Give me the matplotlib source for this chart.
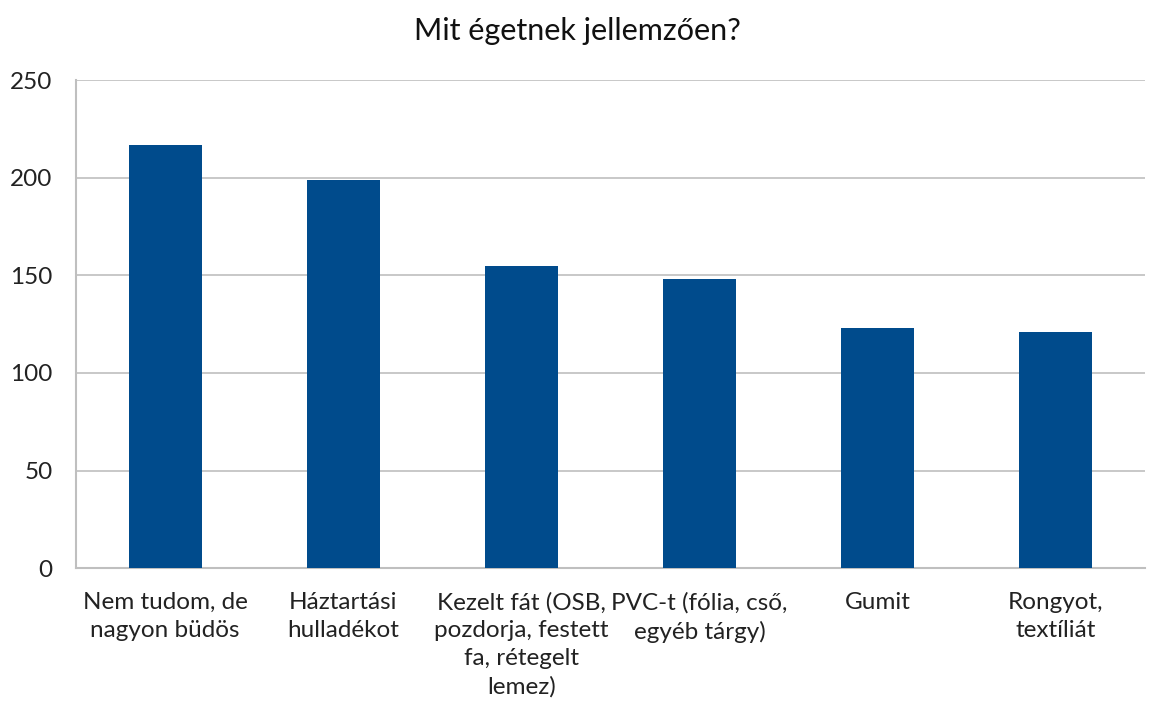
import matplotlib.pyplot as plt
import numpy as np

plt.rcParams['font.family'] = ['Lato', 'DejaVu Sans']

title = "Mit égetnek jellemzően?"
categories = [
    "Nem tudom, de\nnagyon büdös",
    "Háztartási\nhulladékot",
    "Kezelt fát (OSB,\npozdorja, festett\nfa, rétegelt\nlemez)",
    "PVC-t (fólia, cső,\negyéb tárgy)",
    "Gumit",
    "Rongyot,\ntextíliát",
]
values = [217, 199, 155, 148, 123, 121]
yticks = [0, 50, 100, 150, 200, 250]

fig = plt.figure(figsize=(11.54, 7.11), dpi=100)
ax = fig.add_axes([0.066, 0.201, 0.926, 0.686])

x = np.arange(len(categories))
ax.bar(x, values, width=0.41, color='#004B8C', zorder=3)

ax.set_xlim(-0.5, len(categories) - 0.5)
ax.set_ylim(0, 250)
ax.set_yticks(yticks)
ax.set_xticks(x)
ax.set_xticklabels(categories, fontsize=17.5, color='#222222', linespacing=1.4, va='top')
ax.tick_params(axis='y', labelsize=17.5, labelcolor='#222222', length=0, pad=17)
ax.tick_params(axis='x', length=0, pad=17)

ax.grid(axis='y', color='#BFBFBF', linewidth=1.2, zorder=0)
for side in ['top', 'right']:
    ax.spines[side].set_visible(False)
for side in ['left', 'bottom']:
    ax.spines[side].set_color('#BFBFBF')
    ax.spines[side].set_linewidth(1.5)

fig.text(0.5, 0.957, title, ha='center', va='center', fontsize=22, color='#111111')

fig.savefig('out.png', dpi=100, facecolor='white')
